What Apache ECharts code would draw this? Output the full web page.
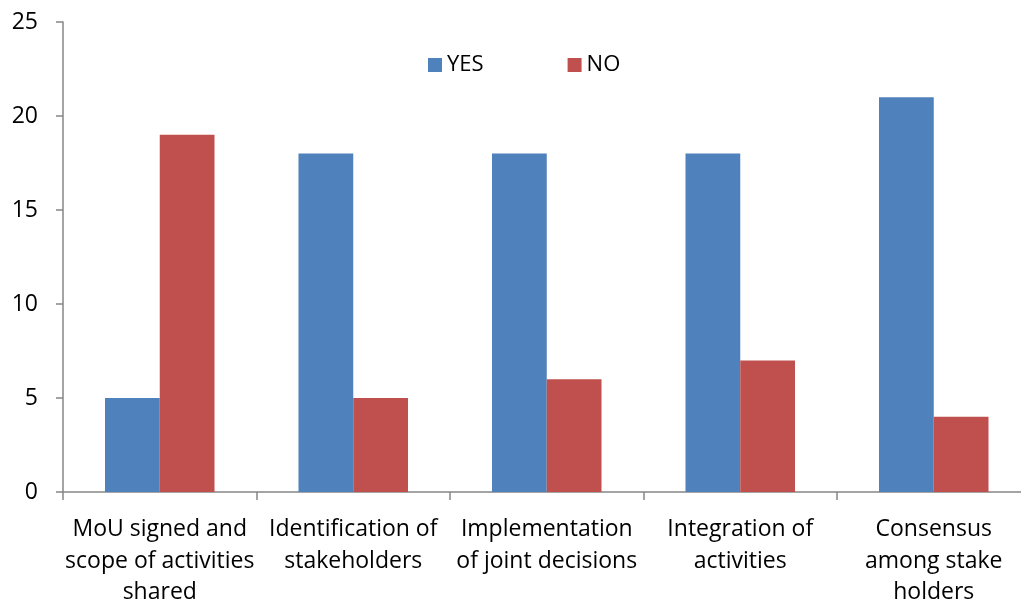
<!DOCTYPE html>
<html><head><meta charset="utf-8">
<script src="https://cdn.jsdelivr.net/npm/echarts@6/dist/echarts.min.js"></script>
<style>html,body{margin:0;padding:0;background:#fff;overflow:hidden}#c{width:1040px;height:606px}</style>
</head><body><div id="c"></div>
<script>
const categories = ["MoU signed and\nscope of activities\nshared", "Identification of\nstakeholders", "Implementation\nof joint decisions", "Integration of\nactivities", "Consensus\namong stake\nholders"];
const yesValues = [5, 18, 18, 18, 21];
const noValues = [19, 5, 6, 7, 4];
const yTicks = [0, 5, 10, 15, 20, 25];

const chart = echarts.init(document.getElementById('c'), null, {renderer: 'canvas'});
const font = '"Open Sans", Lato, sans-serif';
chart.setOption({
  animation: false,
  textStyle: {fontFamily: font},
  legend: {
    data: ['YES', 'NO'],
    left: 423, top: 49,
    itemWidth: 14, itemHeight: 14, itemGap: 84,
    icon: 'rect',
    textStyle: {fontSize: 22, color: '#000', fontFamily: font}
  },
  grid: {left: 63, top: 22, width: 967.5, bottom: 114, containLabel: false, outerBoundsMode: 'none'},
  xAxis: {
    type: 'category', data: categories,
    axisLine: {lineStyle: {color: '#868686', width: 1.5}},
    axisTick: {show: true, inside: false, length: 8, lineStyle: {color: '#868686', width: 1.5}},
    axisLabel: {fontSize: 23, color: '#000', lineHeight: 31.5, margin: 22, interval: 0, fontFamily: font}
  },
  yAxis: {
    type: 'value', min: 0, max: 25, interval: 5,
    splitLine: {show: false},
    axisLine: {show: true, lineStyle: {color: '#868686', width: 1.5}},
    axisTick: {show: true, length: 7, lineStyle: {color: '#868686', width: 1.5}},
    axisLabel: {fontSize: 23, color: '#000', margin: 25, fontFamily: font,
      formatter: v => yTicks.includes(v) ? String(v) : ''}
  },
  series: [
    {name: 'YES', type: 'bar', data: yesValues, itemStyle: {color: '#4F81BD'}, barGap: '0%', barCategoryGap: '43.4%'},
    {name: 'NO', type: 'bar', data: noValues, itemStyle: {color: '#C0504D'}}
  ]
});
</script></body></html>
